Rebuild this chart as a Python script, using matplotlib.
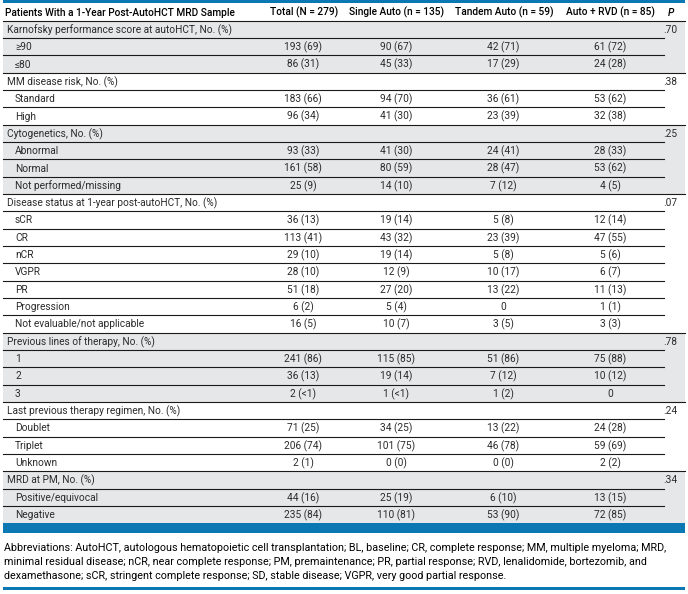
import matplotlib
matplotlib.use("Agg")
import matplotlib.pyplot as plt
from matplotlib.patches import Rectangle

plt.rcParams['font.family'] = ['Roboto', 'DejaVu Sans']

# table content
col_headers = ['Patients With a 1-Year Post-AutoHCT MRD Sample', 'Total (N = 279)',
               'Single Auto (n = 135)', 'Tandem Auto (n = 59)', 'Auto + RVD (n = 85)', 'P']
group_titles = ['Karnofsky performance score at autoHCT, No. (%)',
                'MM disease risk, No. (%)',
                'Cytogenetics, No. (%)',
                'Disease status at 1-year post-autoHCT, No. (%)',
                'Previous lines of therapy, No. (%)',
                'Last previous therapy regimen, No. (%)',
                'MRD at PM, No. (%)']
p_values = ['.70', '.38', '.25', '.07', '.78', '.24', '.34']
group_sizes = [2, 2, 3, 7, 3, 3, 2]
row_labels = ['≥90', '≤80',
              'Standard', 'High',
              'Abnormal', 'Normal', 'Not performed/missing',
              'sCR', 'CR', 'nCR', 'VGPR', 'PR', 'Progression', 'Not evaluable/not applicable',
              '1', '2', '3',
              'Doublet', 'Triplet', 'Unknown',
              'Positive/equivocal', 'Negative']
total = ['193 (69)', '86 (31)',
         '183 (66)', '96 (34)',
         '93 (33)', '161 (58)', '25 (9)',
         '36 (13)', '113 (41)', '29 (10)', '28 (10)', '51 (18)', '6 (2)', '16 (5)',
         '241 (86)', '36 (13)', '2 (<1)',
         '71 (25)', '206 (74)', '2 (1)',
         '44 (16)', '235 (84)']
single_auto = ['90 (67)', '45 (33)',
               '94 (70)', '41 (30)',
               '41 (30)', '80 (59)', '14 (10)',
               '19 (14)', '43 (32)', '19 (14)', '12 (9)', '27 (20)', '5 (4)', '10 (7)',
               '115 (85)', '19 (14)', '1 (<1)',
               '34 (25)', '101 (75)', '0 (0)',
               '25 (19)', '110 (81)']
tandem_auto = ['42 (71)', '17 (29)',
               '36 (61)', '23 (39)',
               '24 (41)', '28 (47)', '7 (12)',
               '5 (8)', '23 (39)', '5 (8)', '10 (17)', '13 (22)', '0', '3 (5)',
               '51 (86)', '7 (12)', '1 (2)',
               '13 (22)', '46 (78)', '0 (0)',
               '6 (10)', '53 (90)']
auto_rvd = ['61 (72)', '24 (28)',
            '53 (62)', '32 (38)',
            '28 (33)', '53 (62)', '4 (5)',
            '12 (14)', '47 (55)', '5 (6)', '6 (7)', '11 (13)', '1 (1)', '3 (3)',
            '75 (88)', '10 (12)', '0',
            '24 (28)', '59 (69)', '2 (2)',
            '13 (15)', '72 (85)']
footnote_lines = [
    'Abbreviations: AutoHCT, autologous hematopoietic cell transplantation; BL, baseline; CR, complete response; MM, multiple myeloma; MRD,',
    'minimal residual disease; nCR, near complete response; PM, premaintenance; PR, partial response; RVD, lenalidomide, bortezomib, and',
    'dexamethasone; sCR, stringent complete response; SD, stable disease; VGPR, very good partial response.']

blue = '#0b78b4'
grey = '#e6e7e9'
txt = '#2b2b2b'
fs = 7.3

W, H = 688, 594
fig = plt.figure(figsize=(W / 100, H / 100), dpi=100)
ax = fig.add_axes([0, 0, 1, 1])
ax.set_xlim(0, W)
ax.set_ylim(H, 0)
ax.axis('off')

x0, x1, xin = 3, 685, 664
col_x = [7, 303, 396, 503, 610, 677]
top = 20.7
rh = 17.33

# header
ax.add_patch(Rectangle((x0, 0), x1 - x0, 3, color=blue, lw=0))
ax.text(5, 12.5, col_headers[0], fontsize=fs, fontweight='medium', va='center', ha='left', color='black')
for x, h in zip(col_x[1:5], col_headers[1:5]):
    ax.text(x + 1, 12.5, h, fontsize=fs, fontweight='medium', va='center', ha='center', color='black')
ax.text(671, 12.5, 'P', fontsize=fs, fontweight='medium', fontstyle='italic', va='center', ha='center', color='black')
ax.plot([x0, x1], [top, top], color='#1a1a1a', lw=0.8)

row = 0
k = 0
for g, title in enumerate(group_titles):
    n = group_sizes[g]
    y_start = top + row * rh
    if g % 2 == 0:
        ax.add_patch(Rectangle((x0, y_start), x1 - x0, (n + 1) * rh, color=grey, lw=0, zorder=0))
    yc = y_start + rh / 2 + 0.5
    ax.text(col_x[0], yc, title, fontsize=fs, va='center', ha='left', color=txt)
    ax.text(col_x[5], yc, p_values[g], fontsize=fs, va='center', ha='right', color=txt)
    row += 1
    for i in range(n):
        yl = top + row * rh
        ax.plot([x0, xin], [yl, yl], color='#1a1a1a', lw=0.8)
        yc = yl + rh / 2 + 0.5
        ax.text(15, yc, row_labels[k], fontsize=fs, va='center', ha='left', color=txt)
        for x, col in zip(col_x[1:5], [total, single_auto, tandem_auto, auto_rvd]):
            ax.text(x, yc, col[k], fontsize=fs, va='center', ha='center', color=txt)
        row += 1
        k += 1
    yl = top + row * rh
    if g < len(group_titles) - 1:
        ax.plot([x0, x1], [yl, yl], color='#1a1a1a', lw=0.8)

# bottom band and footnote
yb = top + row * rh
ax.add_patch(Rectangle((x0, yb), x1 - x0, 9.5, color=blue, lw=0))
for i, line in enumerate(footnote_lines):
    ax.text(3.5, 548 + i * 14.2, line, fontsize=7.76, va='center', ha='left', color='black')
ax.add_patch(Rectangle((x0, 587), x1 - x0, 3, color=blue, lw=0))

fig.savefig('out.png', dpi=100)
